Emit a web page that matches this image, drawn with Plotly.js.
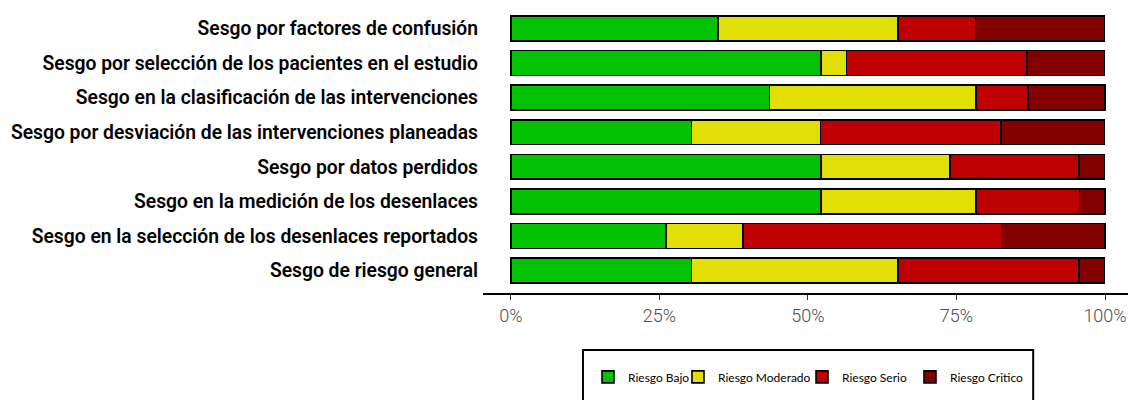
<!DOCTYPE html>
<html>
<head>
<meta charset="utf-8">
<script src="https://cdn.plot.ly/plotly-3.0.1.min.js"></script>
<style>html,body{margin:0;padding:0;background:#fff;}#chart{width:1128px;height:400px;}</style>
</head>
<body>
<div id="chart"></div>
<script>
const categories = [
  "Sesgo por factores de confusión",
  "Sesgo por selección de los pacientes en el estudio",
  "Sesgo en la clasificación de las intervenciones",
  "Sesgo por desviación de las intervenciones planeadas",
  "Sesgo por datos perdidos",
  "Sesgo en la medición de los desenlaces",
  "Sesgo en la selección de los desenlaces reportados",
  "Sesgo de riesgo general"
];
const seriesNames = ["Riesgo Bajo", "Riesgo Moderado", "Riesgo Serio", "Riesgo Critico"];
const riesgoBajo     = [34.8, 52.2, 43.5, 30.4, 52.2, 52.2, 26.1, 30.4];
const riesgoModerado = [30.4,  4.3, 34.8, 21.7, 21.7, 26.1, 13.0, 34.8];
const riesgoSerio    = [13.0, 30.4,  8.7, 30.4, 21.7, 17.4, 43.5, 30.4];
const riesgoCritico  = [21.7, 13.0, 13.0, 17.4,  4.3,  4.3, 17.4,  4.3];
const tickVals = [0, 25, 50, 75, 100];
const tickText = ["0%", "25%", "50%", "75%", "100%"];

const colors = ["#02C100", "#E2DF07", "#BF0000", "#820000"];
const allSeries = [riesgoBajo, riesgoModerado, riesgoSerio, riesgoCritico];
const legendIds = ["legend", "legend2", "legend3", "legend4"];
const legendX = [0.1628, 0.3023, 0.4946, 0.6620];

const traces = allSeries.map((vals, i) => ({
  type: "bar",
  orientation: "h",
  name: seriesNames[i],
  legend: legendIds[i],
  y: categories,
  x: vals,
  marker: { color: colors[i], line: { color: "#000", width: 1.6 } },
  hoverinfo: "x+y+name"
}));

const layout = {
  width: 1128,
  height: 400,
  margin: { l: 483, r: 0, t: 10, b: 107, autoexpand: false },
  paper_bgcolor: "#fff",
  plot_bgcolor: "#fff",
  barmode: "stack",
  bargap: 0.28,
  showlegend: true,
  font: { family: "Roboto, sans-serif" },
  xaxis: {
    range: [-4.71, 103.87],
    tickvals: tickVals,
    ticktext: tickText,
    showgrid: false,
    zeroline: false,
    showline: true,
    linecolor: "#000",
    linewidth: 2,
    ticks: "outside",
    ticklen: 5,
    tickwidth: 1,
    tickcolor: "#333",
    tickfont: { family: "Roboto, sans-serif", size: 18, color: "#4D4D4D", weight: 300 },
    fixedrange: true
  },
  yaxis: {
    type: "category",
    categoryorder: "array",
    categoryarray: categories,
    range: [7.65, -0.535],
    showgrid: false,
    zeroline: false,
    showline: false,
    ticks: "",
    ticklabelstandoff: 4,
    tickfont: { family: "Roboto, sans-serif", size: 19.3, color: "#000", weight: 600 },
    fixedrange: true
  },
  shapes: [{
    type: "rect",
    xref: "paper", yref: "paper",
    x0: 0.155, x1: 0.853,
    y0: -0.2014, y1: -0.40,
    line: { color: "#000", width: 2 },
    fillcolor: "rgba(0,0,0,0)",
    layer: "below"
  }]
};

legendIds.forEach((id, i) => {
  layout[id] = {
    orientation: "h",
    x: legendX[i],
    xanchor: "left",
    y: -0.245,
    yanchor: "top",
    font: { family: "Lato, sans-serif", size: 12, color: "#000" },
    bgcolor: "rgba(0,0,0,0)",
    borderwidth: 0,
    itemwidth: 30
  };
});

Plotly.newPlot("chart", traces, layout, { displayModeBar: false, staticPlot: true });
</script>
</body>
</html>
